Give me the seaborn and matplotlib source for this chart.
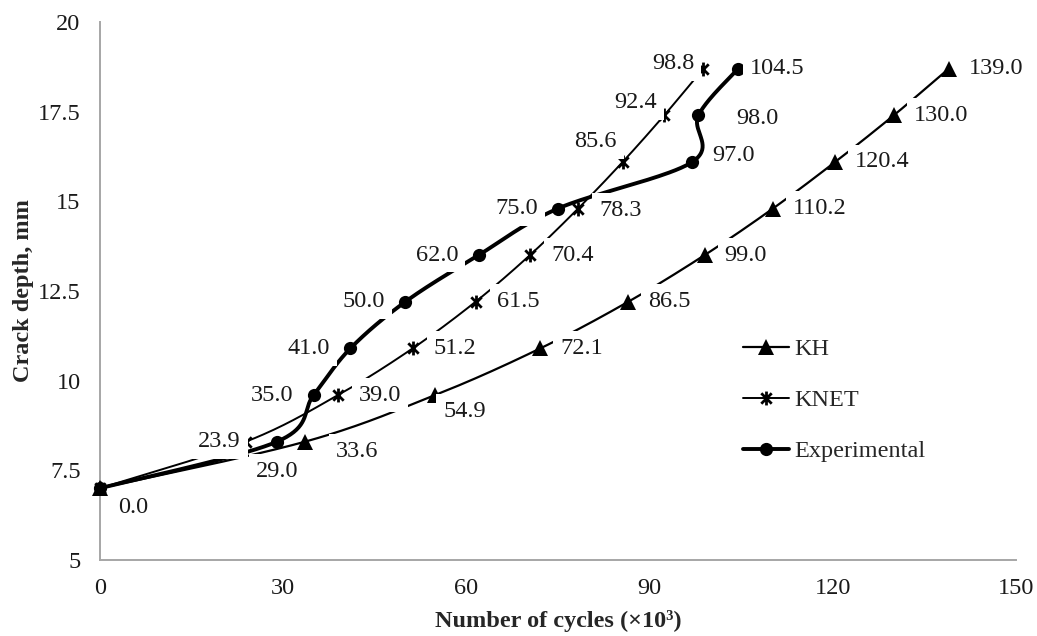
import numpy as np
import pandas as pd
import matplotlib
matplotlib.use("Agg")
import matplotlib.pyplot as plt
from matplotlib.lines import Line2D
from matplotlib.path import Path
from matplotlib.ticker import FuncFormatter
import seaborn as sns

# crack depth (mm) at each measurement and cycles (x10^3) for each series
depth = [7.0, 8.3, 9.6, 10.9, 12.2, 13.5, 14.8, 16.1, 17.4, 18.7]
kh = [0.0, 33.6, 54.9, 72.1, 86.5, 99.0, 110.2, 120.4, 130.0, 139.0]
knet = [0.0, 23.9, 39.0, 51.2, 61.5, 70.4, 78.3, 85.6, 92.4, 98.8]
experimental = [0.0, 29.0, 35.0, 41.0, 50.0, 62.0, 75.0, 97.0, 98.0, 104.5]
series_names = ["KH", "KNET", "Experimental"]

# label placement (pixels): dx, dy, ha ; None = no label
kh_lab = [(18, -19, "left"), (31, -10, "left"), (8, -16, "left")] + [(20, 0, "left")] * 7
knet_lab = [None, (-5, 0, "right"), (21, 0, "left"), (21, 0, "left"), (21, 0, "left"),
            (21, 0, "left"), (21, -2, "left"), (-6, 20, "right"), (-7, 13, "right"), (-9, 5, "right")]
exp_lab = [None, (0, -30, "center")] + [(-20, 0, "right")] * 5 + \
          [(20, 6, "left"), (38, -3, "left"), (12, 0, "left")]

FS = 17.5
W, H = 1037, 636
AX_L, AX_R, AX_T, AX_B = 100, 1016, 22, 560
SX = (AX_R - AX_L) / 150.0
SY = (AX_B - AX_T) / 15.0

# Excel style "star" marker: an x with a vertical stroke
star = Path([(0, -1), (0, 1), (-0.75, -0.75), (0.75, 0.75), (-0.75, 0.75), (0.75, -0.75)],
            [Path.MOVETO, Path.LINETO, Path.MOVETO, Path.LINETO, Path.MOVETO, Path.LINETO])


def smooth(xv, yv, n=40):
    # Excel-like smoothed line (Bezier through points), done in pixel space
    P = np.column_stack([np.asarray(xv) * SX, np.asarray(yv) * SY])
    ext = np.vstack([P[0], P, P[-1]])
    t = np.linspace(0, 1, n)[1:, None]
    out = [P[0]]
    for i in range(len(P) - 1):
        p0, p1, p2, p3 = ext[i], ext[i + 1], ext[i + 2], ext[i + 3]
        c1 = p1 + (p2 - p0) / 6.0
        c2 = p2 - (p3 - p1) / 6.0
        seg = (1 - t) ** 3 * p1 + 3 * (1 - t) ** 2 * t * c1 + 3 * (1 - t) * t ** 2 * c2 + t ** 3 * p2
        out.extend(seg)
    out = np.array(out)
    return out[:, 0] / SX, out[:, 1] / SY


sns.set_style("white")
plt.rcParams['font.family'] = ['Liberation Serif', 'DejaVu Serif']
plt.rcParams['font.size'] = FS

fig = plt.figure(figsize=(W / 100, H / 100), dpi=100)
ax = fig.add_axes([AX_L / W, 1 - AX_B / H, (AX_R - AX_L) / W, (AX_B - AX_T) / H])

styles = {
    "KH": dict(lw=1.6, marker="^", ms=11.5, mew=0),
    "KNET": dict(lw=1.4, marker=star, ms=10, mew=2.0),
    "Experimental": dict(lw=2.8, marker="o", ms=9.5, mew=0),
}
data = {"KH": kh, "KNET": knet, "Experimental": experimental}
labs = {"KH": kh_lab, "KNET": knet_lab, "Experimental": exp_lab}

for name in series_names:
    st = styles[name]
    sx, sy = smooth(data[name], depth)
    df = pd.DataFrame({"cycles": sx, "depth": sy})
    sns.lineplot(data=df, x="cycles", y="depth", sort=False, estimator=None,
                 color="black", lw=st["lw"], ax=ax, zorder=2)
    ax.plot(data[name], depth, linestyle="none", marker=st["marker"], ms=st["ms"],
            color="black", mec="black", mew=st["mew"], zorder=3, clip_on=False)
    for xv, yv, lab in zip(data[name], depth, labs[name]):
        if lab is None:
            continue
        dx, dy, ha = lab
        ax.annotate(f"{xv:.1f}", (xv, yv), xytext=(dx, dy), textcoords="offset pixels",
                    ha=ha, va="center", fontsize=FS, color="#1a1a1a", zorder=5,
                    bbox=dict(boxstyle="square,pad=0.28", fc="white", ec="none"))

ax.set_xlim(0, 150)
ax.set_ylim(5, 20)
ax.set_xticks([0, 30, 60, 90, 120, 150])
ax.set_yticks([5, 7.5, 10, 12.5, 15, 17.5, 20])
ax.yaxis.set_major_formatter(FuncFormatter(lambda v, p: f"{v:g}"))
for s in ["top", "right"]:
    ax.spines[s].set_visible(False)
for s in ["left", "bottom"]:
    ax.spines[s].set_color("#a6a6a6")
    ax.spines[s].set_linewidth(1.4)
ax.tick_params(axis="both", direction="out", length=4, width=1, color="#a6a6a6",
               labelsize=FS, labelcolor="#1a1a1a")
ax.tick_params(axis="x", pad=9)
ax.tick_params(axis="y", pad=10)
ax.set_xlabel("Number of cycles (×10³)", fontsize=FS, fontweight="bold", labelpad=8)
ax.set_ylabel("Crack depth, mm", fontsize=FS, fontweight="bold", labelpad=3)

handles = [Line2D([], [], color="black", lw=styles[n]["lw"], marker=styles[n]["marker"],
                  ms=styles[n]["ms"], mew=styles[n]["mew"]) for n in series_names]
ax.legend(handles, series_names, loc="upper left", bbox_to_anchor=(743 / W, 1 - 338 / H),
          bbox_transform=fig.transFigure, frameon=False, borderpad=0, borderaxespad=0,
          handlelength=1.9, handletextpad=0.2, labelspacing=1.2, fontsize=FS)

fig.savefig("out.png", dpi=100)
